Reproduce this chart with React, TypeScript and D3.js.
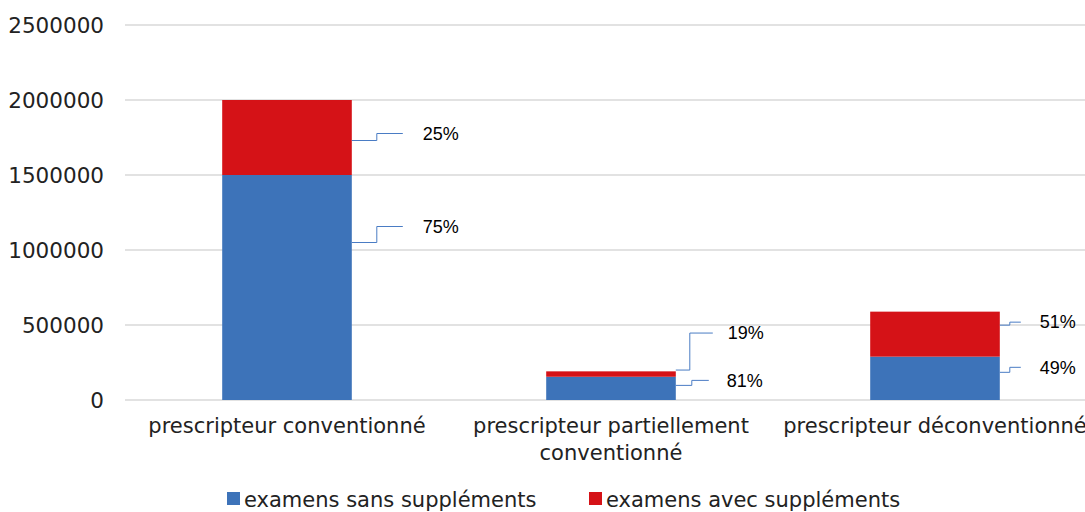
import React from "react";
import * as d3 from "d3";

const categories = [
  ["prescripteur conventionné"],
  ["prescripteur partiellement", "conventionné"],
  ["prescripteur déconventionné"],
];
const sansSupplements = [1500000, 155000, 289000];
const avecSupplements = [500000, 36000, 300000];
const sansPct = ["75%", "81%", "49%"];
const avecPct = ["25%", "19%", "51%"];
const yTicks = [0, 500000, 1000000, 1500000, 2000000, 2500000];
const seriesNames = ["examens sans suppléments", "examens avec suppléments"];
const colors = ["#3D73B9", "#D51217"];

// label layout (pixel offsets relative to bar edge / segment)
// [anchorDy from segment mid, textY relative to segment mid, elbow dx, end dx, text dx]
const labelLayout = [
  { sans: [-45, -61, 25, 51, 71], avec: [3, -4, 25, 51, 71] },
  { sans: [-3, -8, 16, 33, 51], avec: [-4, -41, 14, 37, 52] },
  { sans: [-6, -11, 10, 21, 40], avec: [-9, -12, 10, 21, 40] },
];

export default function App() {
  const W = 1085, H = 512;
  const x0 = 125, x1 = 1097, yTop = 25, yBot = 400;
  const x = d3.scaleBand<number>().domain([0, 1, 2]).range([x0, x1]).paddingInner(0.6).paddingOuter(0.3);
  const y = d3.scaleLinear().domain([0, 2500000]).range([yBot, yTop]);
  const font = "DejaVu Sans, Verdana, sans-serif";
  const lblFont = "Liberation Sans, Arial, sans-serif";
  const lineCol = "#4A7CC4";

  const labels: JSX.Element[] = [];
  categories.forEach((_, i) => {
    const bx = (x(i) as number) + x.bandwidth();
    const segs = [
      { key: "sans", lo: 0, hi: sansSupplements[i], txt: sansPct[i] },
      { key: "avec", lo: sansSupplements[i], hi: sansSupplements[i] + avecSupplements[i], txt: avecPct[i] },
    ];
    segs.forEach((s) => {
      const mid = (y(s.lo) + y(s.hi)) / 2;
      const L = (labelLayout[i] as any)[s.key];
      const ya = mid + L[0];
      const yt = mid + L[1];
      const path = d3.path();
      path.moveTo(bx, ya);
      path.lineTo(bx + L[2], ya);
      path.lineTo(bx + L[2], yt);
      path.lineTo(bx + L[3], yt);
      labels.push(
        <g key={`${i}-${s.key}`}>
          <path d={path.toString()} fill="none" stroke={lineCol} strokeWidth={1} />
          <text x={bx + L[4]} y={yt} dy="0.35em" fontFamily={lblFont} fontSize={18} fill="#000">
            {s.txt}
          </text>
        </g>
      );
    });
  });

  return (
    <svg width={W} height={H} style={{ position: "absolute", left: 0, top: 0, background: "#fff" }}>
      <rect width={W} height={H} fill="#fff" />
      {yTicks.map((t) => (
        <g key={t}>
          <line x1={x0} x2={W} y1={y(t)} y2={y(t)} stroke="#D9D9D9" strokeWidth={1.5} />
          <text x={104} y={y(t)} dy="0.36em" textAnchor="end" fontFamily={font} fontSize={21.5} fill="#222">
            {t}
          </text>
        </g>
      ))}
      {categories.map((c, i) => (
        <g key={i}>
          <rect x={x(i)} width={x.bandwidth()} y={y(sansSupplements[i])} height={y(0) - y(sansSupplements[i])} fill={colors[0]} />
          <rect
            x={x(i)}
            width={x.bandwidth()}
            y={y(sansSupplements[i] + avecSupplements[i])}
            height={y(sansSupplements[i]) - y(sansSupplements[i] + avecSupplements[i])}
            fill={colors[1]}
          />
          {c.map((line, k) => (
            <text
              key={k}
              x={(x(i) as number) + x.bandwidth() / 2}
              y={433 + k * 27}
              textAnchor="middle"
              fontFamily={font}
              fontSize={21}
              fill="#222"
            >
              {line}
            </text>
          ))}
        </g>
      ))}
      {labels}
      {seriesNames.map((n, k) => (
        <g key={n}>
          <rect x={[227, 589][k]} y={492} width={13} height={13} fill={colors[k]} />
          <text x={[244, 606][k]} y={507} fontFamily={font} fontSize={21} fill="#222">
            {n}
          </text>
        </g>
      ))}
    </svg>
  );
}
